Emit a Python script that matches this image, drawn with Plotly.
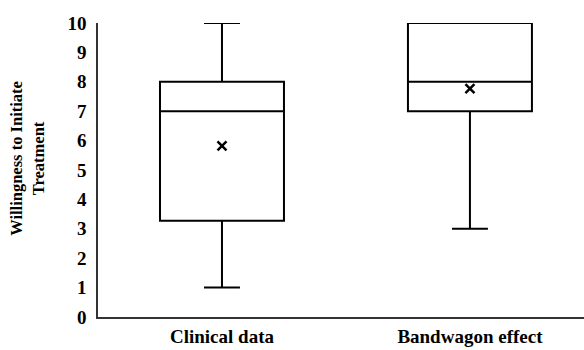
import plotly.graph_objects as go

categories = ["Clinical data", "Bandwagon effect"]
lower_whisker = [1, 3]
q1 = [3.27, 7]
median = [7, 8]
q3 = [8, 10]
upper_whisker = [10, 10]
means = [5.82, 7.77]
y_ticks = list(range(0, 11))
y_title = "Willingness to Initiate<br>Treatment"

FONT = "Liberation Serif"

fig = go.Figure()
fig.add_trace(go.Box(
    x=categories,
    q1=q1, median=median, q3=q3,
    lowerfence=lower_whisker, upperfence=upper_whisker,
    fillcolor="white",
    line=dict(color="black", width=2),
    width=0.5,
    whiskerwidth=0.29,
    boxpoints=False,
    showlegend=False,
    hoverinfo="skip",
))
fig.add_trace(go.Scatter(
    x=categories, y=means, mode="markers",
    marker=dict(symbol="x-thin-open", size=9, line=dict(color="black", width=2.5), color="black"),
    showlegend=False,
))

fig.update_layout(
    width=584, height=350,
    margin=dict(l=98, r=0, t=23, b=33, autoexpand=False),
    paper_bgcolor="white", plot_bgcolor="white",
    font=dict(family=FONT, color="black"),
    xaxis=dict(
        range=[-0.5, 1.46],
        showline=True, linecolor="#333", linewidth=1.5,
        showgrid=False, zeroline=False, ticks="",
        automargin=False,
        ticklabelstandoff=1,
        tickfont=dict(family=FONT, size=19, color="black", weight="bold"),
    ),
    yaxis=dict(
        range=[0, 10],
        tickvals=y_ticks,
        showline=True, linecolor="#333", linewidth=1.5,
        showgrid=False, zeroline=False, ticks="",
        automargin=False,
        ticklabelstandoff=6,
        tickfont=dict(family=FONT, size=19, color="black", weight="bold"),
    ),
    annotations=[dict(
        text=y_title, textangle=-90, showarrow=False,
        xref="paper", yref="paper", x=-0.145, y=0.54,
        xanchor="center", yanchor="middle",
        font=dict(family=FONT, size=16.5, color="black", weight="bold"),
    )],
)

fig.write_html("out.html", config={"displayModeBar": False},
               post_script="document.body.style.margin='0';document.body.style.overflow='hidden';")
